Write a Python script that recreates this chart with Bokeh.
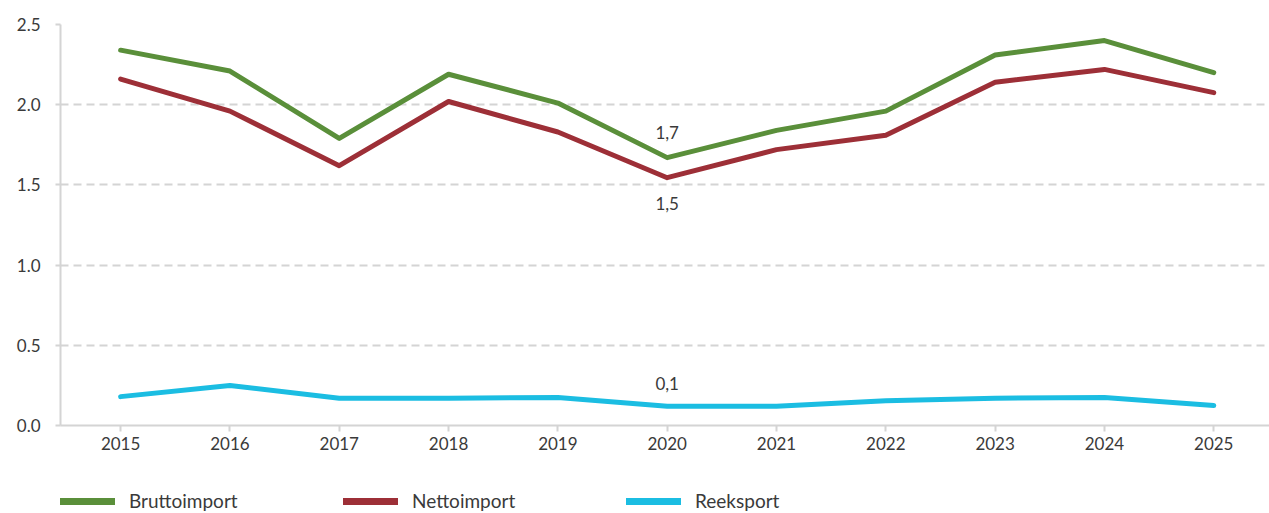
from bokeh.plotting import figure
from bokeh.layouts import column
from bokeh.models import Range1d, FixedTicker, Legend, LegendItem, ColumnDataSource, NumeralTickFormatter
from bokeh.core.properties import value
from bokeh.embed import file_html
from bokeh.resources import INLINE

years = [2015, 2016, 2017, 2018, 2019, 2020, 2021, 2022, 2023, 2024, 2025]
brutto = [2.34, 2.21, 1.79, 2.19, 2.01, 1.67, 1.84, 1.96, 2.31, 2.40, 2.20]
netto = [2.16, 1.96, 1.62, 2.02, 1.83, 1.545, 1.72, 1.81, 2.14, 2.22, 2.075]
reeksport = [0.18, 0.25, 0.17, 0.17, 0.175, 0.12, 0.12, 0.155, 0.17, 0.175, 0.125]
y_ticks = [0.0, 0.5, 1.0, 1.5, 2.0, 2.5]
series_names = ["Bruttoimport", "Nettoimport", "Reeksport"]
ann_text = ["1,7", "1,5", "0,1"]

FONT = "Lato"
TXT = "#3a3a3a"
GRAY = "#d4d4d4"
colors = ["#5a8f3a", "#9d2f37", "#1bbde2"]
series = [brutto, netto, reeksport]

p = figure(width=1269, height=470, output_backend="svg", toolbar_location=None,
           x_range=Range1d(2014.45, 2025.51), y_range=Range1d(0, 2.5),
           min_border_left=60, min_border_right=0, min_border_top=24, min_border_bottom=45)
p.outline_line_color = None
p.background_fill_color = "white"

for vals, c in zip(series, colors):
    p.line(years, vals, line_color=c, line_width=5, line_cap="round", line_join="round")

# annotations at 2020
i20 = years.index(2020)
ann_src = ColumnDataSource(dict(
    x=[years[i20]] * 3,
    y=[brutto[i20], netto[i20], reeksport[i20]],
    t=ann_text,
    off=[-25, 26, -23],
))
p.text(x="x", y="y", text="t", y_offset="off", source=ann_src,
       text_font=value(FONT), text_font_size="17px", text_color=TXT,
       text_align="center", text_baseline="middle")

# axes
p.xaxis.ticker = FixedTicker(ticks=years)
p.yaxis.ticker = FixedTicker(ticks=y_ticks)
p.yaxis.formatter = NumeralTickFormatter(format="0.0")
for ax in (p.xaxis, p.yaxis):
    ax.axis_line_color = GRAY
    ax.axis_line_width = 2
    ax.major_tick_line_color = GRAY
    ax.major_tick_line_width = 2
    ax.major_tick_in = 0
    ax.minor_tick_line_color = None
    ax.major_label_text_font = FONT
    ax.major_label_text_font_size = "17px"
    ax.major_label_text_color = TXT
p.xaxis.major_tick_out = 6
p.xaxis.major_label_standoff = 5
p.yaxis.major_tick_out = 5
p.yaxis.major_label_standoff = 15

p.xgrid.grid_line_color = None
p.ygrid.grid_line_color = GRAY
p.ygrid.grid_line_width = 2
p.ygrid.grid_line_dash = "8 5"

# legend strip below the chart (proxy lines lie outside its visible range)
lg = figure(width=1269, height=43, output_backend="svg", toolbar_location=None,
            x_range=Range1d(0, 1), y_range=Range1d(0, 1),
            min_border=0, x_axis_location=None, y_axis_location=None)
lg.outline_line_color = None
lg.xgrid.grid_line_color = None
lg.ygrid.grid_line_color = None
items = []
for n, vals, c in zip(series_names, series, colors):
    r = lg.line(years, vals, line_color=c, line_width=7, line_cap="round")
    items.append(LegendItem(label=n, renderers=[r]))
legend = Legend(items=items, orientation="horizontal", location=(0, 1),
                glyph_width=55, glyph_height=14, label_standoff=14, label_width=200,
                spacing=14, padding=0, margin=0,
                border_line_color=None, background_fill_alpha=0,
                label_text_font=FONT, label_text_font_size="19px", label_text_color=TXT)
lg.add_layout(legend, "center")

layout = column(p, lg, spacing=0)
open("out.html", "w").write(file_html(layout, INLINE))
